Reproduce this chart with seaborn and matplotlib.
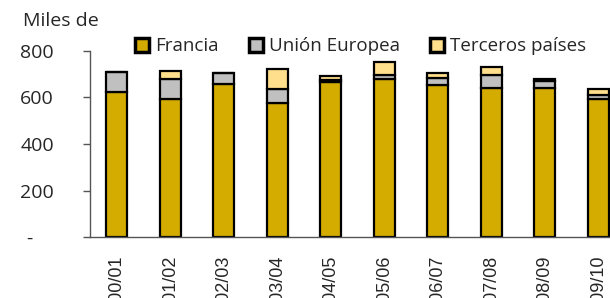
import numpy as np
import pandas as pd
import matplotlib
matplotlib.use('Agg')
import matplotlib.pyplot as plt
import seaborn as sns
from matplotlib.patches import Patch

# campaign labels and volumes (miles de ...)
campanas = ['2000/01', '2001/02', '2002/03', '2003/04', '2004/05',
            '2005/06', '2006/07', '2007/08', '2008/09', '2009/10']
francia = [622, 594, 658, 577, 665, 680, 654, 640, 640, 594]
union_europea = [86, 86, 45, 59, 7, 16, 29, 56, 28, 17]
terceros = [0, 32, 0, 86, 20, 57, 20, 33, 12, 26]

series = ['Francia', 'Unión Europea', 'Terceros países']
colores = ['#D4AC00', '#C0C0C0', '#FFDF8C']

df = pd.DataFrame({'campana': campanas, 'Francia': francia,
                   'Unión Europea': union_europea, 'Terceros países': terceros})

sns.set_style('white')
plt.rcParams['font.family'] = ['Open Sans', 'DejaVu Sans']

fig = plt.figure(figsize=(6.1, 2.98), dpi=100)
ax = fig.add_axes([0.1475, 0.2034, 0.877, 0.6268])

# stacked bars, one seaborn call per series
bottom = np.zeros(len(campanas))
for s, c in zip(series, colores):
    sns.barplot(data=df, x='campana', y=s, color=c, bottom=bottom, width=0.39,
                edgecolor='black', linewidth=1.6, saturation=1, ax=ax)
    bottom = bottom + df[s].values

ax.set_xlim(-0.5, len(campanas) - 0.5)
ax.set_ylim(0, 800)
ax.set_yticks([0, 200, 400, 600, 800])
ax.set_yticklabels(['-    ', '200', '400', '600', '800'], fontsize=14)
ax.set_xlabel('')
ax.set_ylabel('')
ax.tick_params(axis='x', which='major', length=0, labelrotation=90, pad=13)
for lab in ax.get_xticklabels():
    lab.set_family(['Liberation Sans', 'DejaVu Sans'])
    lab.set_fontsize(13)
# small ticks between the bars
ax.set_xticks(np.arange(len(campanas) + 1) - 0.5, minor=True)
ax.tick_params(axis='x', which='minor', direction='in', length=6, color='#555555', width=1)
ax.tick_params(axis='y', which='major', direction='out', length=5, color='#555555',
               width=1, left=True, pad=21)
for sp in ['top', 'right']:
    ax.spines[sp].set_visible(False)
for sp in ['left', 'bottom']:
    ax.spines[sp].set_color('#555555')
    ax.spines[sp].set_linewidth(1)

fig.text(0.037, 0.93, 'Miles de', fontsize=14, va='center')

handles = [Patch(facecolor=c, edgecolor='black', linewidth=2.5) for c in colores]
fig.legend(handles, series, loc='center left', bbox_to_anchor=(0.2216, 0.845), ncol=3,
           frameon=False, fontsize=13.5, handlelength=0.75, handleheight=0.75,
           handletextpad=0.3, columnspacing=1.63, borderaxespad=0, borderpad=0)

fig.savefig('out.png', dpi=100)
